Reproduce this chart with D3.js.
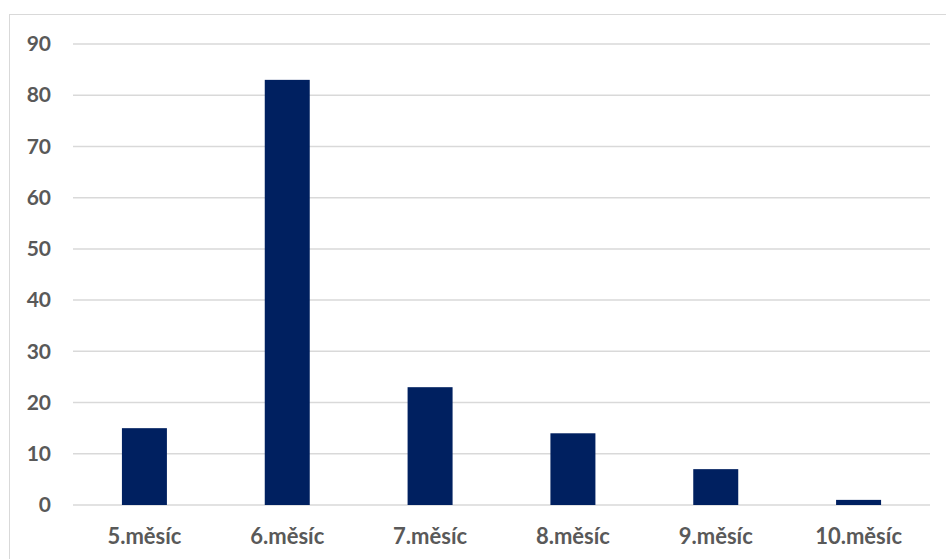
<!DOCTYPE html>
<html>
<head>
<meta charset="utf-8">
<script src="https://cdn.jsdelivr.net/npm/d3@7"></script>
<style>
  html, body { margin: 0; padding: 0; background: #fff; }
  svg { display: block; }
</style>
</head>
<body>
<svg id="chart" width="946" height="559"></svg>
<script>
const categories = ["5.měsíc", "6.měsíc", "7.měsíc", "8.měsíc", "9.měsíc", "10.měsíc"];
const values = [15, 83, 23, 14, 7, 1];
const yTicks = [0, 10, 20, 30, 40, 50, 60, 70, 80, 90];

const svg = d3.select("#chart");
const W = 946, H = 559;
const plot = { left: 73, right: 930, top: 44, bottom: 505 };

// chart border (extends beyond the viewport on right and bottom)
svg.append("rect")
  .attr("x", 9.5).attr("y", 14.5)
  .attr("width", W + 20).attr("height", H + 20)
  .attr("fill", "#fff").attr("stroke", "#d9d9d9").attr("stroke-width", 1);

const x = d3.scaleBand().domain(categories).range([plot.left, plot.right]).padding(0);
const y = d3.scaleLinear().domain([0, 90]).range([plot.bottom, plot.top]);

// gridlines
svg.append("g").selectAll("line").data(yTicks).join("line")
  .attr("x1", plot.left).attr("x2", plot.right)
  .attr("y1", d => y(d)).attr("y2", d => y(d))
  .attr("stroke", "#d9d9d9").attr("stroke-width", 1.5);

// y axis labels
const yAxis = d3.axisLeft(y).tickValues(yTicks).tickSize(0).tickPadding(0);
const gy = svg.append("g").attr("transform", `translate(51,0)`).call(yAxis);
gy.select(".domain").remove();
gy.selectAll("text")
  .attr("font-family", "Lato, 'Open Sans', sans-serif")
  .attr("font-weight", "bold").attr("font-size", 21)
  .attr("fill", "#595959");

// bars
const barW = x.bandwidth() * 0.315;
svg.append("g").selectAll("rect").data(values).join("rect")
  .attr("x", (d, i) => x(categories[i]) + x.bandwidth() / 2 - barW / 2)
  .attr("width", barW)
  .attr("y", d => y(d))
  .attr("height", d => y(0) - y(d))
  .attr("fill", "#002060");

// x axis labels
const xAxis = d3.axisBottom(x).tickSize(0).tickPadding(0);
const gx = svg.append("g").attr("transform", `translate(0,${plot.bottom})`).call(xAxis);
gx.select(".domain").remove();
gx.selectAll("text")
  .attr("dy", null).attr("y", 38.5)
  .attr("font-family", "Lato, 'Open Sans', sans-serif")
  .attr("font-weight", "bold").attr("font-size", 22)
  .attr("fill", "#595959");
</script>
</body>
</html>
